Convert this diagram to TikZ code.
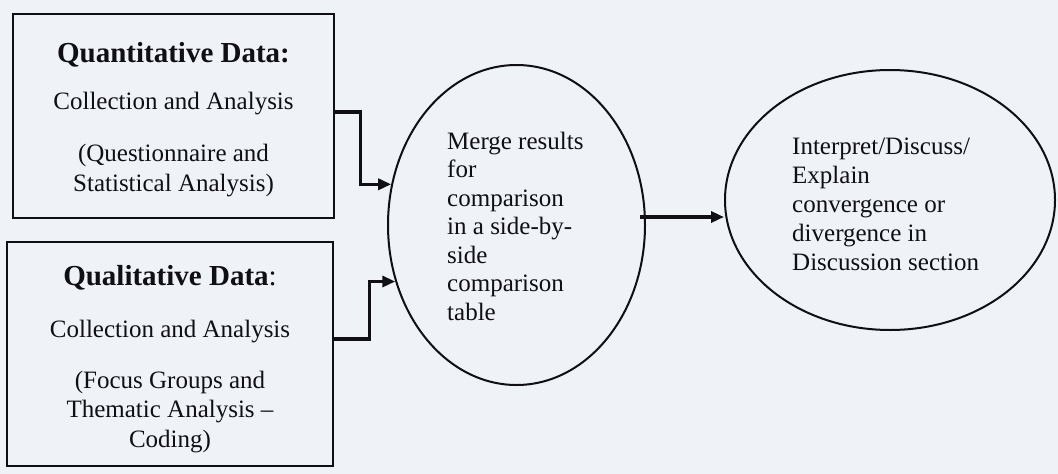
\documentclass[tikz,border=0pt]{standalone}
\usepackage{fontspec}
\setmainfont{Liberation Serif}
\usetikzlibrary{arrows.meta,shapes.geometric}
\definecolor{paper}{RGB}{239,242,247}
\definecolor{ink}{RGB}{15,15,20}
\begin{document}
\begin{tikzpicture}[x=1pt,y=-1pt,
  databox/.style={draw=ink,line width=2.4pt,rectangle,inner sep=0pt},
  oval/.style={draw=ink,line width=2pt,ellipse,inner sep=0pt},
  arr/.style={draw=ink,line width=3.2pt,line join=miter,-{Triangle[length=13pt,width=11pt]}},
  head/.style={font=\fontsize{29}{34}\selectfont\bfseries,anchor=base,text=ink,inner sep=0pt},
  body/.style={font=\fontsize{25}{29.5}\selectfont,anchor=base,text=ink,align=center,inner sep=0pt},
  otext/.style={font=\fontsize{25}{28.5}\selectfont,anchor=base west,align=left,text=ink,inner sep=0pt}]
\fill[paper] (0,0) rectangle (1058,474);
\useasboundingbox (0,0) rectangle (1058,474);

% boxes
\node[databox,minimum width=321pt,minimum height=204pt] (quant) at (173.5,116) {};
\node[databox,minimum width=326pt,minimum height=224pt] (qual) at (170,354) {};

% ellipses
\node[oval,minimum width=257pt,minimum height=320pt] (merge) at (516.5,225) {};
\node[oval,minimum width=330pt,minimum height=260pt] (interp) at (890,200) {};

% box texts (multi-line nodes: anchor is the last line's baseline)
\node[head] (t1) at (173.5,62) {Quantitative Data:};
\node[body] (t2) at (173.5,109) {Collection and Analysis};
\node[body] (t3) at (173.5,191) {(Questionnaire and\\Statistical Analysis)};

\node[head] (t4) at (170,285) {Qualitative Data{\mdseries:}};
\node[body] (t5) at (170,337) {Collection and Analysis};
\node[body] (t6) at (170,447) {(Focus Groups and\\Thematic Analysis –\\Coding)};

% ellipse texts
\node[otext] (t7) at (447,320) {Merge results\\for\\comparison\\in a side-by-\\side\\comparison\\table};
\node[otext,font=\fontsize{25}{29}\selectfont] (t8) at (792,270) {Interpret/Discuss/\\Explain\\convergence or\\divergence in\\Discussion section};

% connectors
\draw[arr] ([yshift=4pt]quant.east) -- ++(25,0) |- (merge.162);
\draw[arr] ([yshift=15pt]qual.east) -- ++(35,0) |- (merge.205);
\draw[arr] ([xshift=-6pt]merge.east |- 0,217) -- (interp.west |- 0,217);
\end{tikzpicture}
\end{document}
